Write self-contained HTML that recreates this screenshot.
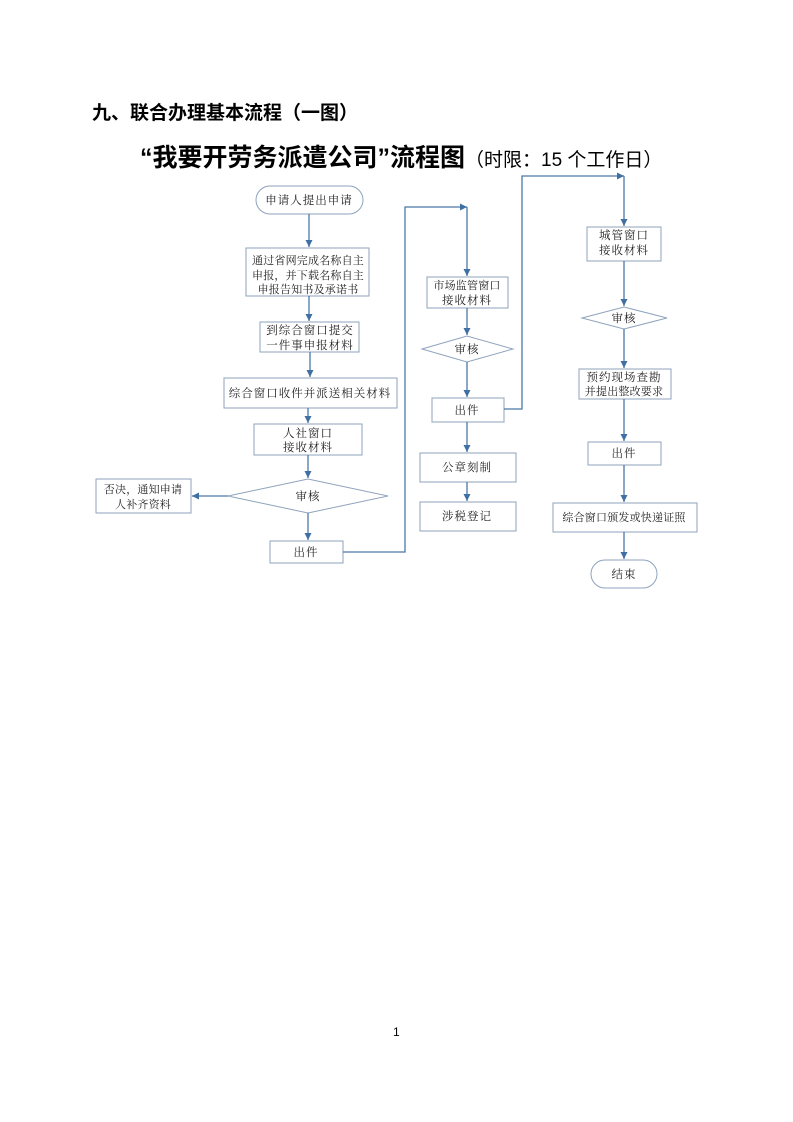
<!DOCTYPE html>
<html><head><meta charset="utf-8"><style>
body{margin:0;background:#fff;width:793px;height:1122px;overflow:hidden;position:relative;font-family:"Liberation Sans","Noto Sans CJK SC",sans-serif}
.t1{position:absolute;left:92px;top:98px;font-size:19px;font-weight:bold;white-space:nowrap}
.t2{position:absolute;left:140px;top:138px;font-size:25px;font-weight:bold;white-space:nowrap}
.t2 span{font-size:19px;font-weight:normal}
.pn{position:absolute;left:393px;top:1025px;font-size:12px}
svg{position:absolute;left:0;top:0}
svg text{font-family:"Noto Serif CJK SC","Noto Sans CJK SC",serif;font-size:11.5px;fill:#222;text-anchor:middle;letter-spacing:1px}
svg text.s{letter-spacing:0.2px;font-size:11px}
</style></head><body>
<div class="t1">九、联合办理基本流程（一图）</div>
<div class="t2">“我要开劳务派遣公司”流程图<span>（时限：15 个工作日）</span></div>
<div class="pn">1</div>
<svg width="793" height="1122">
<defs><marker id="a" markerWidth="8" markerHeight="8" refX="7" refY="4" orient="auto" markerUnits="userSpaceOnUse"><path d="M0,0.5 L7,4 L0,7.5z" fill="#3f6fa3"/></marker></defs>
<g fill="#fff" stroke="#8fa3bd" stroke-width="1">
<rect x="256" y="186" width="107" height="28" rx="14"/>
<rect x="246" y="248" width="123" height="48"/>
<rect x="260" y="322" width="99" height="30"/>
<rect x="224" y="378" width="173" height="30"/>
<rect x="254" y="424" width="108" height="31"/>
<polygon points="228,496 308,479 388,496 308,513"/>
<rect x="96" y="479" width="95" height="34"/>
<rect x="270" y="541" width="73" height="22"/>
<rect x="427" y="277" width="81" height="31"/>
<polygon points="422,349 467,336 513,349 467,362"/>
<rect x="432" y="398" width="72" height="24"/>
<rect x="420" y="453" width="96" height="29"/>
<rect x="420" y="502" width="96" height="29"/>
<rect x="587" y="227" width="74" height="34"/>
<polygon points="582,318 624,307 667,318 624,329"/>
<rect x="579" y="369" width="92" height="30"/>
<rect x="588" y="442" width="73" height="23"/>
<rect x="553" y="503" width="144" height="29"/>
<rect x="591" y="560" width="66" height="28" rx="14"/>
</g>
<g stroke="#4a78a8" stroke-width="1.3" fill="none" marker-end="url(#a)">
<line x1="309" y1="214" x2="309" y2="247"/>
<line x1="309" y1="296" x2="309" y2="321"/>
<line x1="310" y1="352" x2="310" y2="377"/>
<line x1="308" y1="408" x2="308" y2="423"/>
<line x1="308" y1="455" x2="308" y2="478"/>
<line x1="228" y1="496" x2="192" y2="496"/>
<line x1="308" y1="513" x2="308" y2="540"/>
<polyline points="343,552 405,552 405,207 467,207"/>
<line x1="467" y1="207" x2="467" y2="276"/>
<line x1="467" y1="308" x2="467" y2="335"/>
<line x1="467" y1="362" x2="467" y2="397"/>
<line x1="467" y1="422" x2="467" y2="452"/>
<line x1="467" y1="482" x2="467" y2="501"/>
<polyline points="504,409 522,409 522,176 624,176"/>
<line x1="624" y1="176" x2="624" y2="226"/>
<line x1="624" y1="261" x2="624" y2="306"/>
<line x1="624" y1="329" x2="624" y2="368"/>
<line x1="624" y1="399" x2="624" y2="441"/>
<line x1="624" y1="465" x2="624" y2="502"/>
<line x1="624" y1="532" x2="624" y2="559"/>
</g>
<text x="309" y="204">申请人提出申请</text>
<text class="s" x="308" y="264">通过省网完成名称自主</text>
<text class="s" x="308" y="279">申报，并下载名称自主</text>
<text class="s" x="308" y="293">申报告知书及承诺书</text>
<text x="310" y="334">到综合窗口提交</text>
<text x="310" y="349">一件事申报材料</text>
<text x="310" y="397">综合窗口收件并派送相关材料</text>
<text x="308" y="437">人社窗口</text>
<text x="308" y="451">接收材料</text>
<text x="308" y="500">审核</text>
<text class="s" x="143" y="493">否决，通知申请</text>
<text class="s" x="143" y="508">人补齐资料</text>
<text x="306" y="556">出件</text>
<text class="s" x="467" y="289">市场监管窗口</text>
<text x="467" y="304">接收材料</text>
<text x="467" y="353">审核</text>
<text x="467" y="414">出件</text>
<text x="467" y="471">公章刻制</text>
<text x="467" y="520">涉税登记</text>
<text x="624" y="239">城管窗口</text>
<text x="624" y="254">接收材料</text>
<text x="624" y="322">审核</text>
<text x="624" y="381">预约现场查勘</text>
<text class="s" x="624" y="395">并提出整改要求</text>
<text x="624" y="457">出件</text>
<text class="s" x="624" y="521">综合窗口颁发或快递证照</text>
<text x="624" y="578">结束</text>
</svg>
</body></html>
